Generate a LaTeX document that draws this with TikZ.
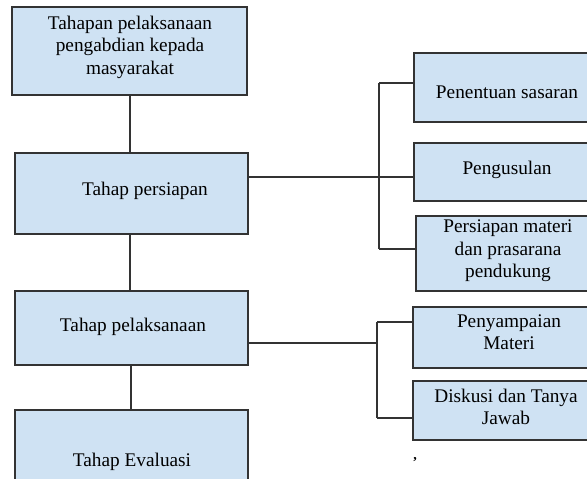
\documentclass[tikz,border=0pt]{standalone}
\usepackage{fontspec}
\setmainfont{Liberation Serif}
\definecolor{boxfill}{HTML}{CFE2F3}
\definecolor{edge}{HTML}{333333}
\begin{document}
\begin{tikzpicture}[x=1pt,y=-1pt,
  box/.style={draw=edge, fill=boxfill, line width=1.4pt, inner sep=0pt, rectangle},
  lbl/.style={inner sep=0pt, align=center, font=\fontsize{19.3}{22.5}\selectfont, text=black},
  link/.style={draw=edge, line width=1.3pt}]
\useasboundingbox (0,0) rectangle (587,479);
\clip (0,0) rectangle (587,479);
\fill[white] (0,0) rectangle (587,479);
% left column boxes
\node[box, minimum width=235, minimum height=88] (b1) at (129.5,51) {};
\node[box, minimum width=233, minimum height=81] (b2) at (131.5,193.5) {};
\node[box, minimum width=233, minimum height=74] (b3) at (131.5,328) {};
\node[box, minimum width=233, minimum height=100] (b4) at (131.5,460) {};
\node[lbl] (t1) at (130,47) {Tahapan pelaksanaan\\pengabdian kepada\\masyarakat};
\node[lbl] (t2) at (145,191) {Tahap persiapan};
\node[lbl] (t3) at (133,327) {Tahap pelaksanaan};
\node[lbl] (t4) at (132,462) {Tahap Evaluasi};
% right column boxes
\node[box, minimum width=186, minimum height=69] (r1) at (507,87.5) {};
\node[box, minimum width=186, minimum height=58] (r2) at (507,172) {};
\node[box, minimum width=184, minimum height=75] (r3) at (508,253.5) {};
\node[box, minimum width=188, minimum height=61] (r4) at (507,337.5) {};
\node[box, minimum width=188, minimum height=59] (r5) at (507,410.5) {};
\node[lbl] (s1) at (507,92) {Penentuan sasaran};
\node[lbl] (s2) at (507,170) {Pengusulan};
\node[lbl] (s3) at (508,251) {Persiapan materi\\dan prasarana\\pendukung};
\node[lbl] (s4) at (509,332) {Penyampaian\\Materi};
\node[lbl] (s5) at (506,407) {Diskusi dan Tanya\\Jawab};
\node[inner sep=0pt, font=\fontsize{14}{14}\selectfont\bfseries] (mk) at (415,460) {,};
% vertical connectors
\draw[link] (130,95) coordinate (a1) -- (a1 |- b2.north);
\draw[link] (130,234) coordinate (a2) -- (a2 |- b3.north);
\draw[link] (131,365) coordinate (a3) -- (a3 |- b4.north);
% bracket 1
\coordinate (j1) at (379,177);
\coordinate (p1) at (379,83);
\coordinate (q1) at (379,249);
\draw[link] (b2.east |- j1) -- (j1) -- (j1 -| r2.west);
\draw[link] (p1) -- (q1);
\draw[link] (p1) -- (p1 -| r1.west);
\draw[link] (q1) -- (q1 -| r3.west);
% bracket 2
\coordinate (j2) at (377,343);
\coordinate (p2) at (377,322);
\coordinate (q2) at (377,418);
\draw[link] (b3.east |- j2) -- (j2);
\draw[link] (p2) -- (q2);
\draw[link] (p2) -- (p2 -| r4.west);
\draw[link] (q2) -- (q2 -| r5.west);
\end{tikzpicture}
\end{document}
